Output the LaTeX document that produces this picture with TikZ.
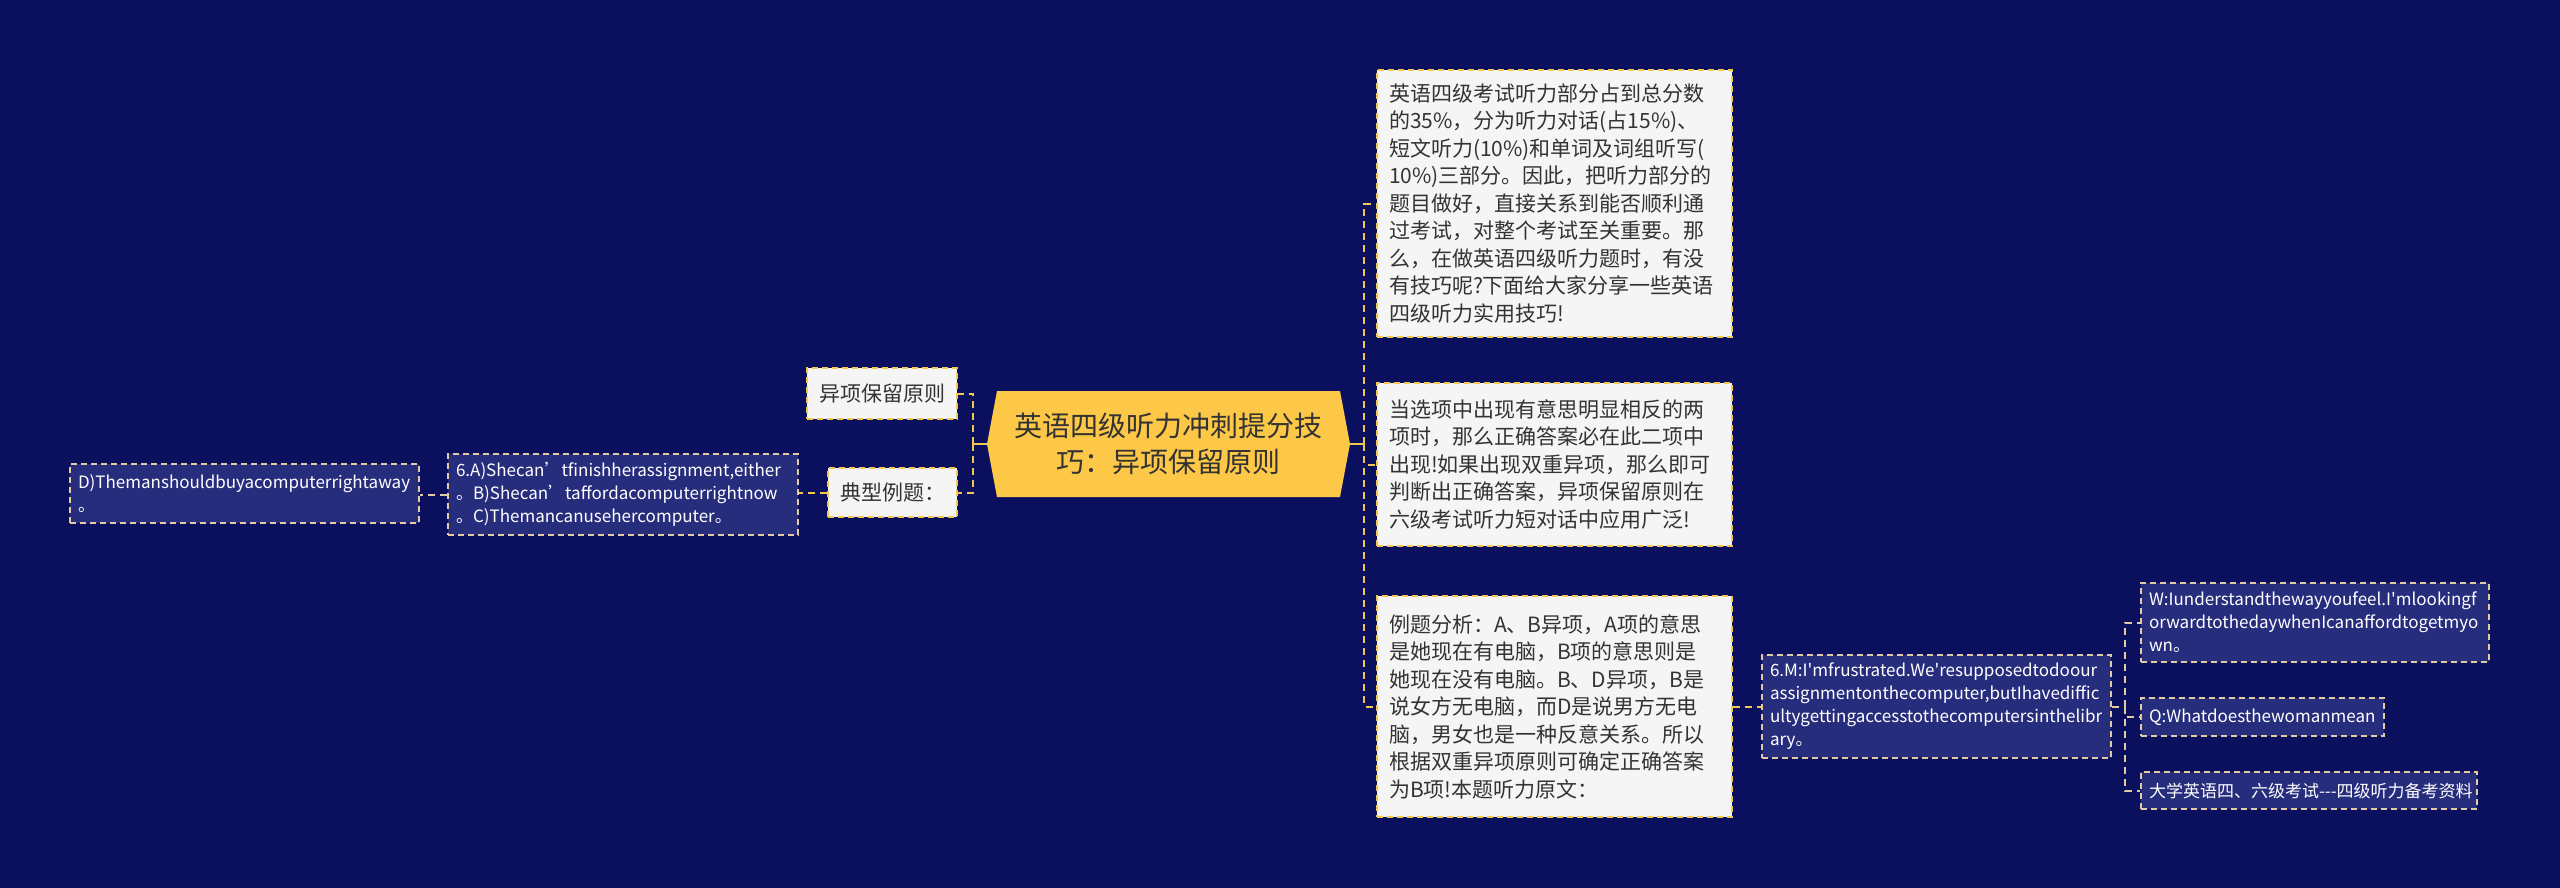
\documentclass[tikz,border=0pt]{standalone}
\usepackage{fontspec}
\newfontfamily\cjkfont{Noto Sans CJK SC}
\usetikzlibrary{calc}
\definecolor{bg}{HTML}{0B105E}
\definecolor{gold}{HTML}{F3C64E}
\definecolor{centerfill}{HTML}{FDC848}
\definecolor{beige}{HTML}{E2CBA0}
\definecolor{lightfill}{HTML}{F5F5F5}
\definecolor{darkfill}{HTML}{272D7D}
\definecolor{txt}{HTML}{333333}
\tikzset{
  lightbox/.style={draw=gold, line width=1.5pt, dash pattern=on 6pt off 4pt, fill=lightfill, text=txt,
    font=\cjkfont\fontsize{21}{27.5}\selectfont, align=left, inner xsep=12pt, inner ysep=0pt, anchor=center},
  darkbox/.style={draw=beige, line width=1.5pt, dash pattern=on 6pt off 4pt, fill=darkfill, text=white,
    font=\cjkfont\fontsize{17}{23}\selectfont, align=left, inner xsep=8pt, inner ysep=0pt, anchor=center},
  conn/.style={draw=gold, line width=2pt, dash pattern=on 7pt off 5pt},
  connb/.style={draw=beige, line width=2pt, dash pattern=on 7pt off 5pt},
  stem/.style={draw=gold, line width=2pt},
}
\begin{document}
\begin{tikzpicture}[x=1pt,y=-1pt]
\fill[bg] (0,0) rectangle (2560,888);
\useasboundingbox (0,0) rectangle (2560,888);

% central node
\fill[centerfill] (997,391) -- (1340,391) -- (1350,444) -- (1340,497) -- (997,497) -- (987,444) -- cycle;
\node[minimum width=363pt, minimum height=106pt, inner sep=0pt, text=txt, align=center,
  font=\cjkfont\fontsize{28}{36.7}\selectfont] (c) at (1168.5,444) {英语四级听力冲刺提分技\\巧：异项保留原则};

% right level-1
\node[lightbox, text width=331pt, minimum height=267pt] (b1) at (1554.5,203.5) {英语四级考试听力部分占到总分数\\的35\%，分为听力对话(占15\%)、\\短文听力(10\%)和单词及词组听写(\\10\%)三部分。因此，把听力部分的\\题目做好，直接关系到能否顺利通\\过考试，对整个考试至关重要。那\\么，在做英语四级听力题时，有没\\有技巧呢?下面给大家分享一些英语\\四级听力实用技巧!};
\node[lightbox, text width=331pt, minimum height=163pt] (b2) at (1554.5,464.5) {当选项中出现有意思明显相反的两\\项时，那么正确答案必在此二项中\\出现!如果出现双重异项，那么即可\\判断出正确答案，异项保留原则在\\六级考试听力短对话中应用广泛!};
\node[lightbox, text width=331pt, minimum height=221pt] (b3) at (1554.5,706.5) {例题分析：A、B异项，A项的意思\\是她现在有电脑，B项的意思则是\\她现在没有电脑。B、D异项，B是\\说女方无电脑，而D是说男方无电\\脑，男女也是一种反意关系。所以\\根据双重异项原则可确定正确答案\\为B项!本题听力原文：};

% left level-1
\node[lightbox, text width=126pt, minimum height=51pt] (s1) at (882,393.5) {异项保留原则};
\node[lightbox, text width=105pt, minimum height=49pt] (s2) at (892.5,492.5) {典型例题：};

% dark boxes
\node[darkbox, text width=334pt, minimum height=81pt] (a6) at (623,494.5) {6.A)Shecan’tfinishherassignment,either\\。B)Shecan’taffordacomputerrightnow\\。C)Themancanusehercomputer。};
\node[darkbox, text width=333pt, minimum height=59pt] (dd) at (244.5,493.5) {D)Themanshouldbuyacomputerrightaway\\。};
\node[darkbox, text width=333pt, minimum height=103pt] (m6) at (1936.5,706.5) {6.M:I'mfrustrated.We'resupposedtodoour\\assignmentonthecomputer,butIhavediffic\\ultygettingaccesstothecomputersinthelibr\\ary。};
\node[darkbox, text width=332pt, minimum height=79pt] (w) at (2315,622.5) {W:Iunderstandthewayyoufeel.I'mlookingf\\orwardtothedaywhenIcanaffordtogetmyo\\wn。};
\node[darkbox, text width=227pt, minimum height=38pt] (q) at (2262.5,717) {\mbox{Q:Whatdoesthewomanmean}};
\node[darkbox, text width=320pt, minimum height=37pt] (dx) at (2309,790.5) {\mbox{大学英语四、六级考试-{}-{}-四级听力备考资料}};

% connectors
\coordinate (rj) at (1364,444);
\coordinate (lj) at (973,444);
\coordinate (mj) at (2125,706.5);
\draw[stem] (c.east) -- (rj);
\draw[stem] (c.west) -- (lj);
\draw[conn] (rj) |- (b1.west);
\draw[conn] (rj) |- (b2.west);
\draw[conn] (rj) |- (b3.west);
\draw[conn] (lj) |- (s1.east);
\draw[conn] (lj) |- (s2.east);
\draw[conn] (s2.west) -- (s2.west -| a6.east);
\draw[connb] (a6.west) -- (a6.west -| dd.east);
\draw[conn] (b3.east) -- (m6.west);
\draw[connb] (m6.east) -- (mj);
\draw[connb] (mj) |- (w.west);
\draw[connb] (mj) |- (q.west);
\draw[connb] (mj) |- (dx.west);
\end{tikzpicture}
\end{document}
